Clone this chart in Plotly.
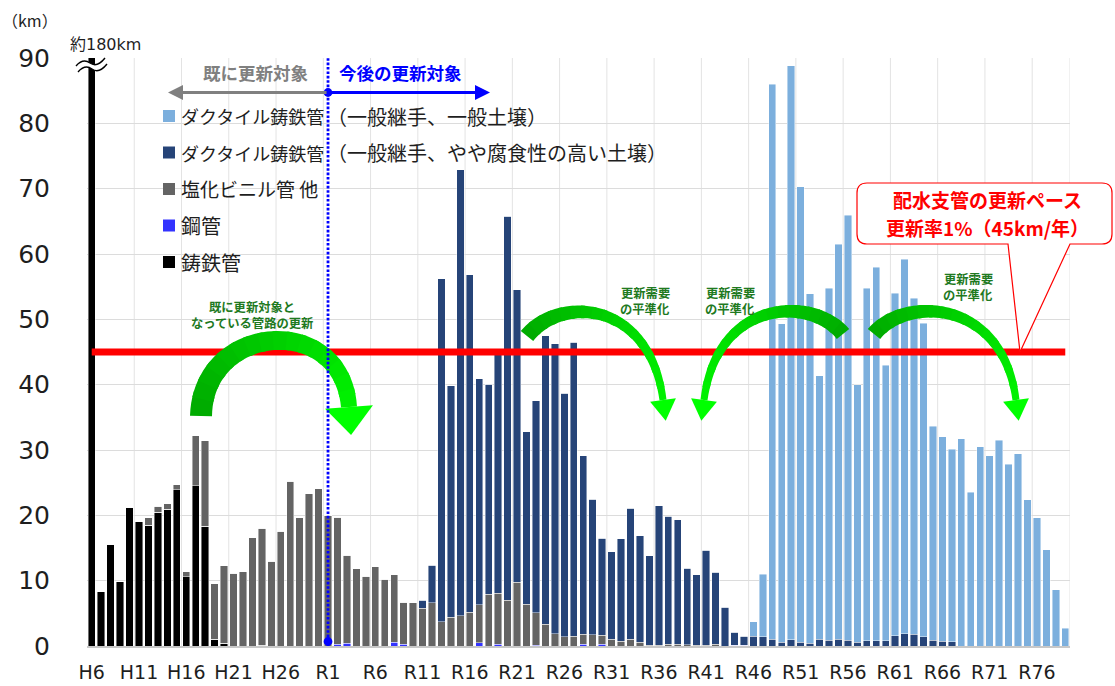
import math
import plotly.graph_objects as go

# ---------------- data ----------------
categories = [f"H{n}" for n in range(6, 31)] + [f"R{n}" for n in range(1, 80)]
tick_labels = categories[::5]

# 鋳鉄管 (black)
cast_iron = [
    180, 8.3, 15.6, 9.85, 21.2, 19.1, 18.5, 20.5, 20.9, 23.9,
    10.6, 24.5, 18.3, 1.05, 0.45, 0, 0, 0, 0.1, 0,
    0, 0, 0, 0, 0,
    0, 0, 0, 0, 0, 0, 0, 0, 0, 0,
    0, 0, 0, 0, 0, 0, 0, 0, 0, 0,
    0, 0, 0, 0, 0, 0, 0, 0, 0, 0,
    0, 0, 0, 0, 0, 0, 0, 0, 0, 0,
    0, 0, 0, 0, 0, 0, 0, 0, 0, 0,
    0, 0, 0, 0, 0, 0, 0, 0, 0, 0,
    0, 0, 0, 0, 0, 0, 0, 0, 0, 0,
    0, 0, 0, 0, 0, 0, 0, 0, 0,
]
# 鋼管 (blue)
steel = [
    0, 0, 0, 0, 0, 0, 0, 0, 0, 0,
    0, 0, 0, 0, 0, 0, 0, 0, 0, 0,
    0, 0, 0, 0, 0,
    0, 0.25, 0.4, 0, 0, 0, 0, 0.55, 0.25, 0,
    0, 0, 0, 0, 0, 0, 0.5, 0, 0.25, 0,
    0, 0, 0.15, 0, 0, 0, 0, 0.3, 0, 0.3,
    0, 0, 0, 0, 0, 0, 0, 0, 0, 0,
    0, 0, 0, 0.1, 0.1, 0, 0, 0, 0, 0,
    0, 0, 0, 0, 0, 0, 0, 0, 0, 0,
    0, 0, 0, 0, 0, 0, 0, 0, 0, 0,
    0, 0, 0, 0, 0, 0, 0, 0, 0,
]
# 塩化ビニル管 他 (gray)
pvc = [
    0, 0, 0, 0, 0, 0, 1.1, 0.9, 0.9, 0.8,
    0.8, 7.7, 13.1, 8.5, 11.8, 11.1, 11.4, 16.6, 17.9, 13.0,
    17.6, 25.2, 19.6, 23.3, 24.1,
    20.0, 19.45, 13.5, 11.85, 10.7, 12.1, 10.2, 10.35, 6.45, 6.65,
    5.75, 6.65, 3.7, 4.4, 4.6, 5.15, 5.8, 7.95, 7.85, 7.0,
    9.75, 6.4, 4.95, 3.3, 1.85, 1.4, 1.5, 1.5, 1.7, 1.35,
    1.0, 0.75, 1.0, 0.6, 0.1, 0.15, 0.3, 0.3, 0.2, 0.1,
    0.1, 0.3, 0, 0, 0, 0, 0, 0, 0, 0,
    0, 0, 0, 0, 0, 0, 0, 0, 0, 0,
    0, 0, 0, 0, 0, 0, 0, 0, 0, 0,
    0, 0, 0, 0, 0, 0, 0, 0, 0,
]
# ダクタイル鋳鉄管（一般継手、やや腐食性の高い土壌） (navy)
ductile_corrosive = [
    0, 0, 0, 0, 0, 0, 0, 0, 0, 0,
    0, 0, 0, 0, 0, 0, 0, 0, 0, 0,
    0, 0, 0, 0, 0,
    0, 0, 0, 0, 0, 0, 0, 0, 0, 0,
    1.25, 5.7, 52.5, 35.4, 68.3, 51.65, 34.6, 32.1, 36.9, 58.8,
    44.75, 26.4, 32.45, 44.15, 44.45, 37.3, 45.0, 27.3, 20.75, 14.85,
    13.4, 15.65, 20.1, 16.3, 13.7, 21.35, 19.55, 19.0, 11.7, 10.8,
    14.55, 11.0, 5.9, 2.0, 1.4, 1.5, 1.4, 1.05, 0.6, 0.95,
    0.6, 0.45, 1.05, 0.85, 1.05, 0.9, 0.55, 0.8, 0.8, 0.8,
    1.6, 1.9, 1.8, 1.4, 0.9, 0.75, 0.65, 0, 0, 0,
    0, 0, 0, 0, 0, 0, 0, 0, 0,
]
# ダクタイル鋳鉄管（一般継手、一般土壌） (light blue)
ductile_general = [
    0, 0, 0, 0, 0, 0, 0, 0, 0, 0,
    0, 0, 0, 0, 0, 0, 0, 0, 0, 0,
    0, 0, 0, 0, 0,
    0, 0, 0, 0, 0, 0, 0, 0, 0, 0,
    0, 0, 0, 0, 0, 0, 0, 0, 0, 0,
    0, 0, 0, 0, 0, 0, 0, 0, 0, 0,
    0, 0, 0, 0, 0, 0, 0, 0, 0, 0,
    0, 0, 0, 0, 0, 2.2, 9.6, 84.95, 48.7, 87.85,
    69.7, 53.45, 40.35, 53.9, 60.45, 65.0, 39.45, 53.95, 57.2, 42.2,
    52.4, 57.3, 51.4, 48.0, 32.7, 31.3, 29.5, 31.7, 23.5, 30.5,
    29.1, 31.5, 27.8, 29.4, 22.35, 19.6, 14.75, 8.6, 2.7,
]
renewal_pace = 45  # km/年

series = [
    ("鋳鉄管", cast_iron, "#000000"),
    ("鋼管", steel, "#3333ff"),
    ("塩化ビニル管 他", pvc, "#646464"),
    ("ダクタイル鋳鉄管（一般継手、やや腐食性の高い土壌）", ductile_corrosive, "#264478"),
    ("ダクタイル鋳鉄管（一般継手、一般土壌）", ductile_general, "#7cafdd"),
]

# ---------------- geometry helpers ----------------
L, T, W, H = 87, 58, 983, 588


def px(x):
    return (x - L) / W


def py(y):
    return (T + H - y) / H


def P(x, y):
    return f"{px(x):.5f},{py(y):.5f}"


JP = "Noto Sans CJK JP"
NUM = "DejaVu Sans"
TXT = "#1e1e1e"

fig = go.Figure()
for name, vals, col in series:
    fig.add_trace(go.Bar(
        x=categories, y=vals, name=name, marker_color=col,
        marker_line=dict(color="rgba(255,255,255,0.55)", width=0.8),
        showlegend=False,
    ))

fig.add_trace(go.Scatter(
    x=categories, y=[renewal_pace] * len(categories), mode="lines",
    line=dict(color="#ff0000", width=7), showlegend=False, hoverinfo="skip",
))

shapes = []
annotations = []


def text(x, y, s, size, color=TXT, family=JP, xanchor="center"):
    annotations.append(dict(x=px(x), y=py(y), xref="paper", yref="paper", text=s, showarrow=False,
                            xanchor=xanchor, yanchor="middle",
                            font=dict(family=family, size=size, color=color)))


# vertical category gridlines every 5 categories (at category boundaries)
for b in list(range(4, len(categories), 5)) + [len(categories) - 1]:
    shapes.append(dict(type="line", xref="x", yref="paper", x0=b + 0.5, x1=b + 0.5,
                       y0=0, y1=1, line=dict(color="#e3e3e3", width=1), layer="below"))


# ---------------- green curved arrows ----------------
def bez(p, t):
    mt = 1 - t
    x = mt**3 * p[0][0] + 3 * mt * mt * t * p[1][0] + 3 * mt * t * t * p[2][0] + t**3 * p[3][0]
    y = mt**3 * p[0][1] + 3 * mt * mt * t * p[1][1] + 3 * mt * t * t * p[2][1] + t**3 * p[3][1]
    return x, y


def bezd(p, t):
    mt = 1 - t
    dx = 3 * mt * mt * (p[1][0] - p[0][0]) + 6 * mt * t * (p[2][0] - p[1][0]) + 3 * t * t * (p[3][0] - p[2][0])
    dy = 3 * mt * mt * (p[1][1] - p[0][1]) + 6 * mt * t * (p[2][1] - p[1][1]) + 3 * t * t * (p[3][1] - p[2][1])
    n = math.hypot(dx, dy)
    return dx / n, dy / n


def mix(c0, c1, f):
    return "rgb(%d,%d,%d)" % tuple(round(a + (b - a) * f) for a, b in zip(c0, c1))


def poly_path(pts):
    return "M" + " L".join(P(x, y) for x, y in pts) + " Z"


def green_arrow(p, w0, w1, hw, hl, c0=(0, 170, 0), c1=(0, 255, 0), nseg=16, nsub=3):
    N = nseg * nsub
    edges = []
    for j in range(N + 1):
        t = j / N
        x, y = bez(p, t)
        tx, ty = bezd(p, t)
        nx, ny = -ty, tx
        w = (w0 + (w1 - w0) * t) / 2
        edges.append(((x + nx * w, y + ny * w), (x - nx * w, y - ny * w)))
    for s in range(nseg):
        a = s * nsub
        b = min((s + 1) * nsub + 1, N)
        left = [edges[k][0] for k in range(a, b + 1)]
        right = [edges[k][1] for k in range(a, b + 1)][::-1]
        col = mix(c0, c1, (s + 0.5) / nseg * 0.85)
        shapes.append(dict(type="path", xref="paper", yref="paper", path=poly_path(left + right),
                           fillcolor=col, line=dict(width=0), layer="above"))
    x, y = bez(p, 1)
    tx, ty = bezd(p, 1)
    nx, ny = -ty, tx
    head = [(x + nx * hw, y + ny * hw), (x + tx * hl, y + ty * hl), (x - nx * hw, y - ny * hw)]
    shapes.append(dict(type="path", xref="paper", yref="paper", path=poly_path(head),
                       fillcolor=mix(c0, c1, 1.0), line=dict(width=0), layer="above"))


green_arrow([(201, 416), (203, 322), (342, 312), (349, 407)], 22, 16, 24, 28)
green_arrow([(527, 336), (560, 295), (650, 300), (663, 400)], 16, 7, 13, 21)
green_arrow([(843, 334), (812, 296), (717, 298), (704, 400)], 16, 7, 13, 21)
green_arrow([(874, 334), (905, 296), (1003, 298), (1016, 400)], 16, 7, 13, 21)

GREEN_TXT = "#1f7a1f"
for cx, cy, lines in [
    (252, 307, ["既に更新対象と", "なっている管路の更新"]),
    (645, 293, ["更新需要", "の平準化"]),
    (730, 293, ["更新需要", "の平準化"]),
    (968, 279, ["更新需要", "の平準化"]),
]:
    for k, ln in enumerate(lines):
        text(cx, cy + 16 * k, f"<b>{ln}</b>", 12.3, GREEN_TXT)

# ---------------- blue dotted boundary line (R1) ----------------
r1_index = categories.index("R1")
shapes.append(dict(type="line", xref="x", yref="paper", x0=r1_index, x1=r1_index, y0=0, y1=1,
                   line=dict(color="#0000ff", width=2.8, dash="2.6px,1.8px"), layer="above"))
xr1 = L + (r1_index + 0.5) * W / len(categories)
for cy in (92.5, 641.5):
    r = 4.4
    shapes.append(dict(type="circle", xref="paper", yref="paper", x0=px(xr1 - r), x1=px(xr1 + r),
                       y0=py(cy + r), y1=py(cy - r), fillcolor="#0000ff", line=dict(width=0), layer="above"))

# arrows at top
annotations.append(dict(x=px(168), y=py(92.5), xref="paper", yref="paper", text="", showarrow=True,
                        ax=xr1 - 168, ay=0, arrowhead=2, arrowsize=1, arrowwidth=3, arrowcolor="#808080",
                        standoff=0, startstandoff=0))
annotations.append(dict(x=px(490), y=py(92.5), xref="paper", yref="paper", text="", showarrow=True,
                        ax=xr1 - 490, ay=0, arrowhead=2, arrowsize=1, arrowwidth=3, arrowcolor="#0000ff",
                        standoff=0, startstandoff=0))
text(255, 73, "<b>既に更新対象</b>", 17.5, "#808080")
text(400, 73, "<b>今後の更新対象</b>", 17.5, "#0000ff")

# ---------------- manual legend ----------------
legend_rows = [
    (116, "#7cafdd", "ダクタイル鋳鉄管", "（一般継手、一般土壌）"),
    (152.5, "#264478", "ダクタイル鋳鉄管", "（一般継手、やや腐食性の高い土壌）"),
    (189, "#646464", "塩化ビニル管 他", None),
    (225.5, "#3333ff", "鋼管", None),
    (262, "#000000", "鋳鉄管", None),
]
for cy, col, t1, t2 in legend_rows:
    shapes.append(dict(type="rect", xref="paper", yref="paper", x0=px(163), x1=px(175),
                       y0=py(cy + 6), y1=py(cy - 6), fillcolor=col, line=dict(width=0), layer="above"))
    fs1 = 18 if t2 else (19 if "ビ" in t1 else 20)
    text(179, cy, t1, fs1, xanchor="left")
    if t2:
        text(325, cy, t2, 20, xanchor="left")

# ---------------- callout ----------------
x0c, x1c, y0c, y1c, rc = 857, 1112, 183, 244, 10
callout = (
    f"M{P(x0c + rc, y0c)} L{P(x1c - rc, y0c)} Q{P(x1c, y0c)} {P(x1c, y0c + rc)} "
    f"L{P(x1c, y1c - rc)} Q{P(x1c, y1c)} {P(x1c - rc, y1c)} "
    f"L{P(1070, y1c)} L{P(1020, 352)} L{P(1008, y1c)} "
    f"L{P(x0c + rc, y1c)} Q{P(x0c, y1c)} {P(x0c, y1c - rc)} "
    f"L{P(x0c, y0c + rc)} Q{P(x0c, y0c)} {P(x0c + rc, y0c)} Z"
)
shapes.append(dict(type="path", xref="paper", yref="paper", path=callout, fillcolor="#ffffff",
                   line=dict(color="#ff0000", width=1.2), layer="above"))
text(987, 199, "<b>配水支管の更新ペース</b>", 19, "#ff0000")
text(987, 227.5, "<b>更新率1%（45km/年）</b>", 19, "#ff0000")

# ---------------- axis break mark on the first bar ----------------
shapes.append(dict(type="path", xref="paper", yref="paper",
                   path=f"M{P(76,66)} Q{P(83,58)} {P(90,63)} Q{P(97,68)} {P(105,58)} L{P(107,64)} "
                        f"Q{P(99,74)} {P(92,69)} Q{P(85,64)} {P(78,72)} Z",
                   fillcolor="#ffffff", line=dict(width=0), layer="above"))
shapes.append(dict(type="path", xref="paper", yref="paper",
                   path=f"M{P(76,66)} Q{P(83,58)} {P(90,63)} Q{P(97,68)} {P(105,58)}",
                   line=dict(color="#000000", width=1.4), layer="above"))
shapes.append(dict(type="path", xref="paper", yref="paper",
                   path=f"M{P(78,72)} Q{P(85,64)} {P(92,69)} Q{P(99,74)} {P(107,64)}",
                   line=dict(color="#000000", width=1.4), layer="above"))

text(105, 44, "約180km", 16, family=f"{NUM}, {JP}")
text(30, 20, "（km）", 16)

fig.update_layout(
    width=1115, height=686, autosize=False,
    margin=dict(l=L, r=1115 - L - W, t=T, b=686 - T - H, pad=0),
    barmode="stack", bargap=0.22,
    plot_bgcolor="#ffffff", paper_bgcolor="#ffffff",
    shapes=shapes, annotations=annotations, showlegend=False,
    xaxis=dict(type="category", categoryorder="array", categoryarray=categories,
               range=[-0.5, len(categories) - 0.5], tickmode="array", tickvals=tick_labels,
               ticktext=tick_labels, showgrid=False, ticks="", ticklabelstandoff=8,
               showline=True, linecolor="#c8c8c8", linewidth=1.5, automargin=False,
               tickfont=dict(family=NUM, size=19, color=TXT), fixedrange=True),
    yaxis=dict(range=[0, 90], dtick=10, tick0=0, showgrid=True, gridcolor="#dcdcdc", gridwidth=1,
               zeroline=False, ticks="", ticklabelstandoff=36, automargin=False,
               tickfont=dict(family=NUM, size=25, color=TXT), fixedrange=True),
)

fig.write_html("out.html")
